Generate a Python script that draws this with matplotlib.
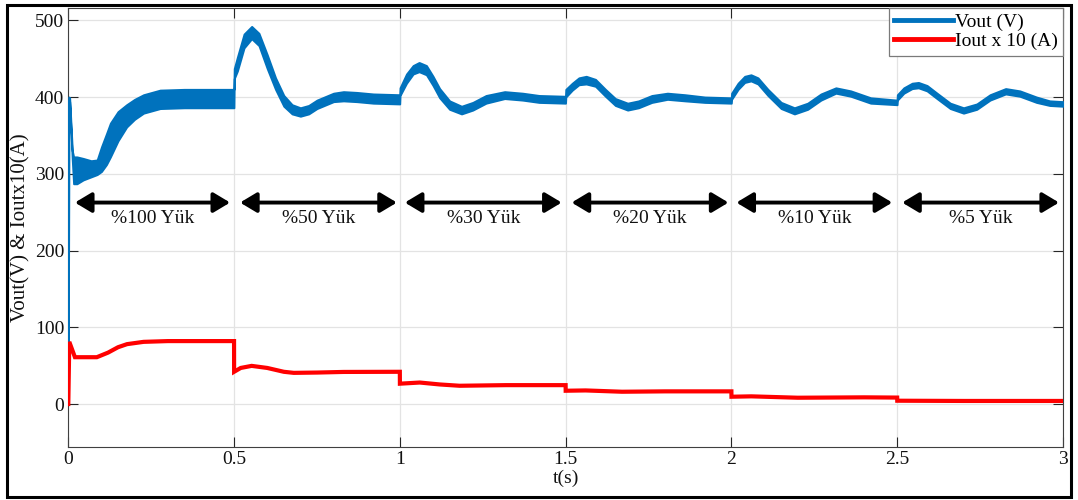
import matplotlib
matplotlib.use('Agg')
import matplotlib.pyplot as plt
from matplotlib.patches import Rectangle
from matplotlib.lines import Line2D

plt.rcParams['font.family'] = ['Liberation Serif', 'DejaVu Serif']

# ---- Vout (V): upper / lower envelope of the ripple band ----
t_v = [0.000, 0.0015, 0.004, 0.012, 0.016, 0.026, 0.045, 0.069, 0.087, 0.10, 0.115, 0.127, 0.15, 0.176, 0.20, 0.227, 0.277, 0.35, 0.4995,
       0.5005, 0.51, 0.53, 0.553, 0.575, 0.60, 0.625, 0.65, 0.675, 0.70, 0.725, 0.75, 0.80, 0.83, 0.87, 0.92, 0.9995,
       1.0005, 1.02, 1.04, 1.058, 1.08, 1.10, 1.12, 1.15, 1.186, 1.22, 1.26, 1.316, 1.37, 1.42, 1.4995,
       1.5005, 1.52, 1.54, 1.562, 1.59, 1.62, 1.65, 1.687, 1.72, 1.76, 1.807, 1.86, 1.92, 1.9995,
       2.0005, 2.02, 2.04, 2.059, 2.08, 2.11, 2.15, 2.19, 2.23, 2.27, 2.315, 2.36, 2.42, 2.4995,
       2.5005, 2.52, 2.545, 2.564, 2.59, 2.62, 2.66, 2.70, 2.74, 2.78, 2.827, 2.87, 2.92, 2.96, 3.0]
v_hi = [0, 400, 399, 330, 322, 322, 320, 317, 318, 335, 352, 366, 381, 390, 397, 403, 409, 410, 410,
        437, 452, 482, 492, 483, 455, 425, 402, 390, 386, 389, 396, 405, 407, 406, 404, 403,
        412, 430, 441, 445, 441, 427, 411, 395, 388, 393, 402, 407, 405, 402, 401,
        410, 418, 425, 427, 423, 410, 398, 392, 395, 402, 405, 403, 400, 399,
        405, 418, 427, 429, 425, 410, 393, 386, 392, 404, 412, 408, 399, 396,
        403, 412, 418, 419, 415, 405, 392, 386, 391, 403, 411, 408, 400, 395, 394]
v_lo = [0, 396, 394, 318, 287, 287, 292, 296, 299, 303, 312, 322, 343, 361, 371, 379, 385, 386, 386,
        424, 434, 464, 476, 467, 437, 410, 388, 378, 375, 378, 385, 394, 395, 394, 392, 391,
        402, 418, 430, 433, 429, 415, 399, 384, 378, 383, 392, 398, 396, 393, 392,
        400, 409, 416, 417, 414, 401, 389, 383, 386, 393, 397, 395, 393, 392,
        397, 410, 419, 421, 417, 402, 385, 378, 384, 396, 405, 401, 392, 390,
        396, 405, 411, 412, 408, 398, 385, 379, 384, 396, 404, 401, 393, 389, 388]

# ---- Iout x 10 (A) ----
t_i = [0, 0.003, 0.02, 0.05, 0.086, 0.12, 0.15, 0.177, 0.227, 0.3, 0.4999,
       0.5001, 0.52, 0.553, 0.6, 0.65, 0.68, 0.75, 0.83, 0.9999,
       1.0001, 1.06, 1.12, 1.18, 1.32, 1.4999,
       1.5001, 1.56, 1.67, 1.8, 1.9999,
       2.0001, 2.06, 2.2, 2.4, 2.4999,
       2.5001, 2.7, 3.0]
i_out = [0, 81, 61, 61, 61, 67, 74, 78, 81, 82, 82,
         42, 47, 49.7, 47, 42, 40.6, 41, 41.8, 42,
         26.5, 28, 25.5, 23.8, 24.6, 24.6,
         17.3, 17.7, 16, 16.5, 16.5,
         9.5, 10, 8.2, 8.7, 8.4,
         4.3, 4, 4]

# ---- load-step annotations ----
seg_start = [0.02, 0.518, 1.015, 1.518, 2.015, 2.515]
seg_end = [0.488, 0.991, 1.488, 1.991, 2.485, 2.988]
seg_labels = ['%100 Yük', '%50 Yük', '%30 Yük', '%20 Yük', '%10 Yük', '%5 Yük']
arrow_y = 262.5
label_y = 242

xticks = [0, 0.5, 1, 1.5, 2, 2.5, 3]
xticklabels = ['0', '0.5', '1', '1.5', '2', '2.5', '3']
yticks = [0, 100, 200, 300, 400, 500]

blue = '#0072BD'
red = '#FF0000'

fig = plt.figure(figsize=(10.78, 5.0), dpi=100)
ax = fig.add_axes([68.3 / 1078, 1 - 447 / 500, (1063 - 68.3) / 1078, (447 - 8) / 500])

ax.fill_between(t_v, v_lo, v_hi, color=blue, edgecolor=blue, lw=1.4, zorder=3)
ax.plot(t_i, i_out, color=red, lw=3, zorder=4, solid_joinstyle='miter')

for s, e, lab in zip(seg_start, seg_end, seg_labels):
    ax.annotate('', xy=(e, arrow_y), xytext=(s, arrow_y),
                arrowprops=dict(arrowstyle='<|-|>,head_length=0.5,head_width=0.3',
                                color='black', lw=2.8, mutation_scale=20,
                                shrinkA=0, shrinkB=0), zorder=5)
    ax.text((s + e) / 2, label_y, lab, ha='center', va='center', fontsize=14, color='#111111', zorder=5)

ax.set_xlim(0, 3)
ax.set_ylim(-56, 516)
ax.set_xticks(xticks)
ax.set_xticklabels(xticklabels)
ax.set_yticks(yticks)
ax.grid(True, color='#e3e3e3', lw=0.9, zorder=0)
ax.set_axisbelow(True)
ax.tick_params(direction='in', length=7, width=0.8, top=True, right=True,
               labelsize=14, pad=3, colors='#262626', labelcolor='#111111')
for sp in ax.spines.values():
    sp.set_color('#404040')
    sp.set_linewidth(0.8)

ax.set_xlabel('t(s)', fontsize=14, labelpad=1, color='#111111')
ax.set_ylabel('Vout(V) & Ioutx10(A)', fontsize=15, labelpad=3, color='#111111')

handles = [Line2D([], [], color=blue, lw=3.5), Line2D([], [], color=red, lw=3.5)]
leg = ax.legend(handles, ['Vout (V)', 'Iout x 10 (A)'], loc='upper right', bbox_to_anchor=(1, 1),
                borderaxespad=0, fontsize=14, handlelength=3.0, handletextpad=0.1,
                labelspacing=0.08, borderpad=0.28, fancybox=False, framealpha=1)
leg.get_frame().set_edgecolor('#7a7a7a')
leg.get_frame().set_linewidth(0.9)

fig.patches.append(Rectangle((7 / 1078, 1 - 497 / 500), (1071 - 7) / 1078, (497 - 5) / 500,
                             transform=fig.transFigure, fill=False, edgecolor='black', lw=2.2))

fig.savefig('out.png', dpi=100)
